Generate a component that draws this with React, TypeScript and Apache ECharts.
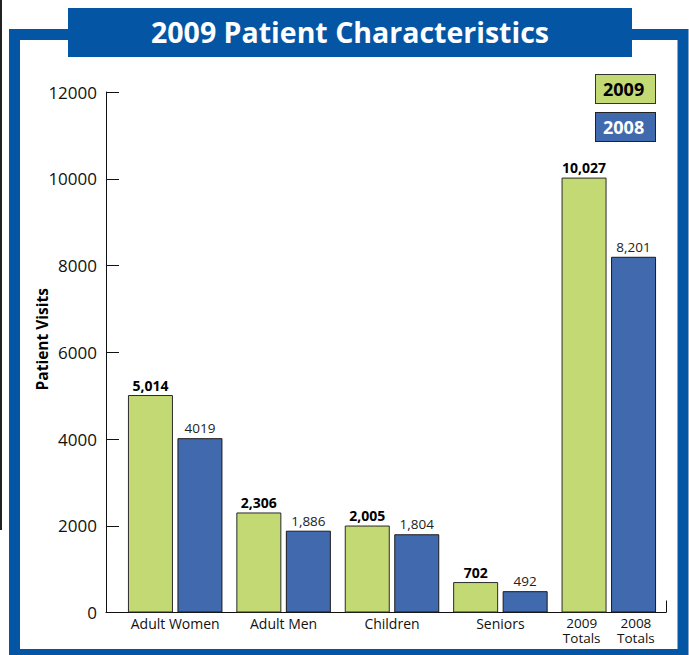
import React, { useEffect, useRef } from "react";
import * as echarts from "echarts";

const categories = ["Adult Women", "Adult Men", "Children", "Seniors", "Totals"];
const values2009 = [5014, 2306, 2005, 702, 10027];
const values2008 = [4019, 1886, 1804, 492, 8201];
const labels2009 = ["5,014", "2,306", "2,005", "702", "10,027"];
const labels2008 = ["4019", "1,886", "1,804", "492", "8,201"];
// half-group slots, used only to place the two "Totals" captions under their own bars
const totalsSlots = ["s0", "s1", "s2", "s3", "s4", "s5", "s6", "s7", "2009\nTotals", "2008\nTotals"];
const yTicks = { min: 0, max: 12000, interval: 2000 };

const GREEN = "#c3d974";
const BLUE = "#4169ae";
const FRAME = "#0456a5";
const FONT = "'Open Sans', 'Noto Sans', sans-serif";

export default function App() {
  const ref = useRef<HTMLDivElement>(null);
  useEffect(() => {
    if (!ref.current) return;
    const chart = echarts.init(ref.current, undefined, { renderer: "svg" });
    const option: any = {
      animation: false,
      backgroundColor: "#ffffff",
      textStyle: { fontFamily: FONT },
      title: {
        text: "2009 Patient Characteristics",
        left: 350,
        textAlign: "center",
        top: 17,
        padding: 0,
        z: 20,
        textStyle: { color: "#ffffff", fontSize: 28.5, fontWeight: "bold", fontFamily: FONT },
      },
      graphic: [
        {
          type: "line",
          shape: { x1: 1, y1: 0, x2: 1, y2: 530 },
          style: { stroke: "#222", lineWidth: 2 },
          z: 0,
        },
        {
          type: "rect",
          shape: { x: 14.5, y: 34.5, width: 668.5, height: 620 },
          style: { fill: "none", stroke: FRAME, lineWidth: 11 },
          z: 1,
        },
        {
          type: "rect",
          shape: { x: 68, y: 8, width: 564, height: 49 },
          style: { fill: FRAME },
          z: 2,
        },
      ],
      legend: {
        orient: "vertical",
        right: 28,
        top: 69,
        itemGap: 8,
        icon: "none",
        itemWidth: 0,
        itemHeight: 0,
        selectedMode: false,
        data: [
          {
            name: "2009",
            textStyle: {
              color: "#000",
              backgroundColor: GREEN,
              borderColor: "#333",
              borderWidth: 1,
            },
          },
          {
            name: "2008",
            textStyle: {
              color: "#fff",
              backgroundColor: BLUE,
              borderColor: "#222",
              borderWidth: 1,
            },
          },
        ],
        textStyle: {
          fontSize: 18,
          fontWeight: "bold",
          fontFamily: FONT,
          lineHeight: 20,
          width: 45,
          align: "center",
          padding: [4, 7, 4, 7],
        },
      },
      grid: [
        { left: 106, width: 560, top: 92, height: 520.5 },
        { left: 121, width: 542, top: 92, height: 520.5 },
      ],
      xAxis: [
        {
          gridIndex: 0,
          type: "value",
          min: 0,
          max: 1,
          interval: 1,
          axisLine: { show: true, lineStyle: { color: "#111", width: 1 } },
          axisTick: { show: true, inside: true, length: 12, lineStyle: { color: "#111" } },
          axisLabel: { show: false },
          splitLine: { show: false },
        },
        {
          gridIndex: 1,
          type: "category",
          data: categories,
          axisLine: { show: false },
          axisTick: { show: false },
          axisLabel: {
            margin: 3,
            color: "#111",
            fontSize: 14,
            lineHeight: 16,
            fontFamily: FONT,
            interval: 0,
            formatter: (v: string) => (v === "Totals" ? "" : v),
          },
        },
        {
          gridIndex: 1,
          type: "category",
          data: totalsSlots,
          position: "bottom",
          axisLine: { show: false },
          axisTick: { show: false },
          splitLine: { show: false },
          axisLabel: {
            margin: 3,
            color: "#111",
            fontSize: 13.5,
            lineHeight: 15,
            fontFamily: FONT,
            interval: 0,
            formatter: (v: string) => (v.indexOf("Totals") >= 0 ? v : ""),
          },
        },
      ],
      yAxis: [
        {
          gridIndex: 0,
          type: "value",
          min: yTicks.min,
          max: yTicks.max,
          interval: yTicks.interval,
          name: "Patient Visits",
          nameLocation: "middle",
          nameGap: 56,
          nameMoveOverlap: false,
          nameTextStyle: {
            color: "#000",
            fontSize: 15.5,
            fontWeight: "bold",
            fontFamily: FONT,
            padding: [0, 0, 0, 26],
          },
          axisLine: { show: true, lineStyle: { color: "#111", width: 1 } },
          axisTick: { show: true, inside: true, length: 13, lineStyle: { color: "#111" } },
          axisLabel: {
            color: "#111",
            fontSize: 17,
            margin: 9,
            fontFamily: FONT,
            formatter: (v: number) => String(v),
          },
          splitLine: { show: false },
        },
        {
          gridIndex: 1,
          type: "value",
          min: yTicks.min,
          max: yTicks.max,
          interval: yTicks.interval,
          show: false,
          splitLine: { show: false },
        },
      ],
      series: [
        {
          name: "2009",
          type: "bar",
          xAxisIndex: 1,
          yAxisIndex: 1,
          data: values2009,
          barWidth: 45,
          barGap: "10%",
          itemStyle: { color: GREEN, borderColor: "#2a2a2a", borderWidth: 1 },
          label: {
            show: true,
            position: "top",
            distance: 3,
            color: "#000",
            fontSize: 14,
            fontWeight: "bold",
            fontFamily: FONT,
            formatter: (p: any) => labels2009[p.dataIndex],
          },
        },
        {
          name: "2008",
          type: "bar",
          xAxisIndex: 1,
          yAxisIndex: 1,
          data: values2008,
          barWidth: 45,
          itemStyle: { color: BLUE, borderColor: "#1a1a1a", borderWidth: 1 },
          label: {
            show: true,
            position: "top",
            distance: 3,
            color: "#222",
            fontSize: 13.5,
            fontFamily: FONT,
            formatter: (p: any) => labels2008[p.dataIndex],
          },
        },
      ],
    };
    chart.setOption(option);
    return () => chart.dispose();
  }, []);
  return (
    <div
      ref={ref}
      style={{ position: "fixed", left: 0, top: 0, width: 689, height: 655 }}
    />
  );
}
